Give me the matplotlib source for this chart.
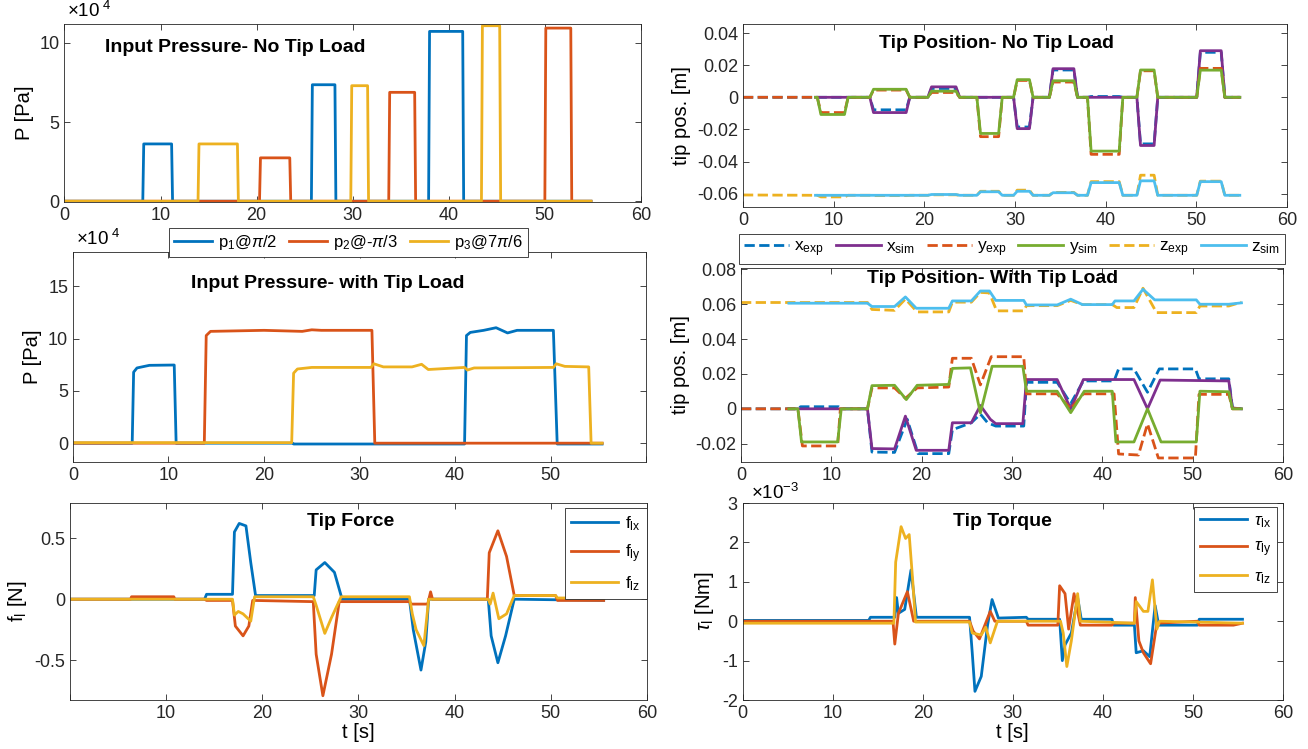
import matplotlib
matplotlib.use("Agg")
import matplotlib.pyplot as plt
import numpy as np

plt.rcParams['font.family'] = ['Liberation Sans', 'DejaVu Sans']
plt.rcParams['mathtext.fontset'] = 'custom'
plt.rcParams['mathtext.rm'] = 'Liberation Sans'
plt.rcParams['mathtext.it'] = 'Liberation Sans:italic'

C1, C2, C3 = '#0072BD', '#D95319', '#EDB120'
C4, C5, C6 = '#7E2F8E', '#77AC30', '#4DBEEE'

# ---- input pressure, no tip load (x1e4 Pa) ----
p1_nl_t = [0, 8.15, 8.25, 11.15, 11.25, 25.7, 25.8, 28.15, 28.25, 37.9, 38.0, 41.45, 41.55, 54.8]
p1_nl_v = [0, 0, 3.62, 3.62, 0, 0, 7.36, 7.36, 0, 0, 10.73, 10.73, 0, 0]
p2_nl_t = [0, 20.3, 20.4, 23.45, 23.55, 33.75, 33.85, 36.45, 36.55, 50.0, 50.1, 52.7, 52.8, 54.8]
p2_nl_v = [0, 0, 2.74, 2.74, 0, 0, 6.88, 6.88, 0, 0, 10.94, 10.94, 0, 0]
p3_nl_t = [0, 13.9, 14.0, 18.0, 18.1, 29.8, 29.9, 31.55, 31.65, 43.4, 43.5, 45.3, 45.4, 54.8]
p3_nl_v = [0, 0, 3.62, 3.62, 0, 0, 7.3, 7.3, 0, 0, 11.09, 11.09, 0, 0]

# ---- input pressure, with tip load (x1e4 Pa) ----
p1_wl_t = [0, 6.2, 6.35, 6.7, 8.0, 10.6, 10.8, 23, 23.1, 41.0, 41.2, 41.6, 43.0, 44.3, 45.5, 46.5, 50.3, 50.7, 55.4]
p1_wl_v = [0, 0, 6.8, 7.2, 7.45, 7.48, 0, 0, -0.08, -0.08, 10.3, 10.6, 10.8, 11.05, 10.55, 10.8, 10.8, -0.08, -0.08]
p2_wl_t = [0, 13.75, 13.95, 14.4, 20, 24, 25, 26, 30, 31.3, 31.6, 55.4]
p2_wl_v = [0, 0, 10.3, 10.7, 10.8, 10.7, 10.85, 10.8, 10.8, 10.8, 0, 0]
p3_wl_t = [0, 22.9, 23.1, 23.5, 25, 31.2, 31.5, 32.5, 35.5, 36.5, 37.2, 41.0, 41.3, 42, 50.3, 50.6, 51.5, 54.0, 54.25, 55.4]
p3_wl_v = [0.05, 0.05, 6.7, 7.1, 7.25, 7.25, 7.6, 7.3, 7.3, 7.55, 7.05, 7.25, 7.0, 7.2, 7.25, 7.6, 7.35, 7.3, 0, 0]

# ---- tip position, no tip load: pulse windows and levels [m] ----
pulse_on = [8.2, 14.0, 20.4, 25.8, 29.85, 33.8, 38.0, 43.45, 50.05]
pulse_off = [11.2, 18.0, 23.5, 28.2, 31.6, 36.5, 41.5, 45.35, 52.75]
xsim_nl = [0, -0.0095, 0.0065, 0, -0.0195, 0.0178, 0, -0.030, 0.029]
ysim_nl = [-0.0107, 0.005, 0.0038, -0.0225, 0.011, 0.0103, -0.0335, 0.017, 0.0169]
xexp_nl = [0, -0.0078, 0.0055, 0.0, -0.0185, 0.017, 0.0005, -0.029, 0.028]
yexp_nl = [-0.0095, 0.0045, 0.003, -0.0245, 0.0105, 0.0095, -0.0355, 0.0165, 0.018]
zsim_nl = [-0.061, -0.061, -0.0605, -0.0588, -0.0585, -0.0594, -0.0531, -0.052, -0.0525]
zexp_nl = [-0.062, -0.0612, -0.0607, -0.0585, -0.0578, -0.0592, -0.0525, -0.0485, -0.0522]

# ---- tip position, with tip load [m] ----
xexp_wl_t = [0, 6.3, 6.6, 10.8, 11.1, 14.0, 14.5, 17.0, 18.4, 19.6, 23.0, 23.4, 25.5, 26.5, 27.3, 28.2, 31.3, 31.6,
             35.0, 36.5, 37.9, 41.3, 41.8, 43.5, 45.0, 46.3, 50.3, 50.7, 54.0, 54.4, 55.4]
xexp_wl_v = [0, 0, 0.0012, 0.0012, 0, 0, -0.0248, -0.025, -0.006, -0.0257, -0.0257, -0.012, -0.008, -0.003, -0.008,
             -0.0099, -0.0099, 0.0152, 0.0152, 0.003, 0.016, 0.016, 0.0229, 0.0229, 0.0095, 0.0229, 0.0229, 0.0172,
             0.0172, 0.0005, 0]
xsim_wl_t = [5.3, 14.0, 14.5, 17.0, 18.2, 19.4, 23.0, 23.4, 25.5, 26.5, 27.6, 28.2, 31.2, 31.6, 35.0, 36.5, 37.9,
             43.5, 45.0, 46.4, 54.0, 54.4, 55.4]
xsim_wl_v = [0, 0, -0.0228, -0.023, -0.0042, -0.0238, -0.0238, -0.008, -0.008, 0.0019, -0.006, -0.0085, -0.0085,
             0.0168, 0.0168, 0.0, 0.0168, 0.0168, 0.0, 0.0165, 0.016, 0.0005, 0]
yexp_wl_t = [0, 6.3, 6.8, 10.7, 11.0, 14.0, 14.5, 17.0, 18.2, 19.5, 23.0, 23.4, 25.5, 26.5, 27.7, 31.3, 31.6, 35.0,
             36.5, 37.9, 41.3, 41.8, 44.0, 45.0, 46.2, 50.3, 50.7, 54.0, 54.4, 55.4]
yexp_wl_v = [0, 0, -0.0213, -0.0213, 0, 0, 0.012, 0.012, 0.006, 0.012, 0.0125, 0.029, 0.029, 0.0137, 0.0299, 0.0299,
             0.0086, 0.0086, 0.0, 0.0086, 0.0086, -0.0259, -0.0265, -0.0086, -0.0282, -0.0282, 0.0083, 0.0083, 0, 0]
ysim_wl_t = [5.3, 6.3, 6.7, 10.7, 11.1, 14.0, 14.5, 17.0, 18.3, 19.5, 23.0, 23.4, 25.4, 26.5, 27.8, 31.2, 31.6, 35.0,
             36.5, 38.0, 41.1, 41.5, 43.5, 45.0, 46.5, 50.4, 50.8, 54.0, 54.4, 55.4]
ysim_wl_v = [0, 0, -0.019, -0.019, 0, 0, 0.0133, 0.0135, 0.0053, 0.0135, 0.014, 0.0232, 0.0235, -0.0023, 0.0244,
             0.0244, 0.0101, 0.0101, -0.0022, 0.0101, 0.0101, -0.019, -0.019, 0, -0.019, -0.019, 0.0101, 0.0098, 0, 0]
zexp_wl_t = [0, 14.0, 14.5, 17.0, 18.2, 19.5, 23.0, 23.4, 25.5, 26.5, 27.5, 28.3, 31.3, 31.6, 35.0, 36.5, 37.8, 41.1,
             41.6, 43.5, 44.5, 46.0, 50.4, 50.8, 54.0, 55.4]
zexp_wl_v = [0.061, 0.061, 0.057, 0.0565, 0.063, 0.0556, 0.0556, 0.0612, 0.0612, 0.0668, 0.0665, 0.0562, 0.0562,
             0.0592, 0.0592, 0.0622, 0.0598, 0.0598, 0.0581, 0.0581, 0.0692, 0.0552, 0.0552, 0.059, 0.059, 0.0612]
zsim_wl_t = [5.3, 14.0, 14.5, 17.0, 18.2, 19.4, 23.0, 23.4, 25.5, 26.5, 27.5, 28.2, 31.3, 31.6, 35.0, 36.5, 37.8,
             41.1, 41.4, 43.5, 44.5, 45.8, 50.4, 50.8, 54.0, 55.4]
zsim_wl_v = [0.0606, 0.0606, 0.0587, 0.0587, 0.0642, 0.0577, 0.0577, 0.0619, 0.0619, 0.0676, 0.0676, 0.0622, 0.0622,
             0.0596, 0.0596, 0.0629, 0.0598, 0.0598, 0.0619, 0.0619, 0.0686, 0.0625, 0.0625, 0.06, 0.06, 0.0608]

# ---- tip force [N] ----
flx_t = [0, 14.0, 14.2, 16.9, 17.1, 17.6, 18.3, 18.8, 19.3, 25.4, 25.6, 26.5, 27.5, 28.3, 35.3, 35.7, 36.5, 37.0,
         37.3, 43.5, 43.8, 44.5, 45.3, 46.2, 55.5]
flx_v = [0, 0, 0.04, 0.04, 0.55, 0.62, 0.60, 0.3, 0.03, 0.03, 0.24, 0.30, 0.22, 0.0, 0.0, -0.25, -0.58, -0.35, 0.0,
         0.0, -0.3, -0.52, -0.3, 0.0, -0.01]
fly_t = [0, 6.3, 6.4, 10.8, 10.9, 14.0, 14.2, 16.9, 17.2, 18.0, 18.6, 19.0, 25.3, 25.6, 26.3, 27.2, 28.0, 35.3, 35.5,
         37.2, 37.5, 37.7, 43.4, 43.6, 44.5, 45.4, 46.2, 50.5, 50.7, 55.5]
fly_v = [0, 0, 0.02, 0.02, 0, 0, -0.01, -0.01, -0.22, -0.30, -0.22, -0.01, -0.02, -0.45, -0.79, -0.45, -0.02, -0.02,
         -0.04, -0.04, 0.06, 0.0, 0.0, 0.38, 0.56, 0.35, 0.03, 0.03, -0.01, -0.01]
flz_t = [0, 16.9, 17.1, 17.5, 18.0, 18.8, 19.2, 25.3, 25.6, 26.5, 27.2, 28.2, 35.3, 35.6, 36.0, 36.8, 37.3, 43.5,
         43.7, 44.0, 44.6, 45.4, 46.2, 50.5, 50.7, 55.5]
flz_v = [0, 0, -0.13, -0.10, -0.12, -0.18, 0.02, 0.02, -0.05, -0.28, -0.15, 0.02, 0.02, -0.12, -0.25, -0.38, 0.0,
         0.0, -0.04, 0.05, -0.16, -0.12, 0.03, 0.03, 0.01, 0.01]

# ---- tip torque [x1e-3 Nm] ----
tlx_t = [0, 14.0, 14.2, 16.9, 17.1, 17.3, 18.0, 18.7, 19.3, 25.2, 25.5, 25.8, 26.5, 27.2, 27.7, 28.4, 31.5, 31.7,
         35.2, 35.5, 35.8, 36.5, 37.2, 37.6, 41.0, 41.2, 43.5, 43.7, 44.5, 45.2, 45.8, 46.2, 50.5, 50.7, 55.5]
tlx_v = [0.02, 0.02, 0.1, 0.1, 0.6, 0.2, 0.3, 1.3, 0.1, 0.1, -0.8, -1.78, -1.4, -0.1, 0.55, 0.08, 0.1, 0.05, 0.05,
         -1.0, -0.6, -0.3, 0.6, 0.05, 0.05, -0.1, -0.1, -0.8, -0.75, -0.9, 0.4, -0.1, -0.1, 0.05, 0.05]
tly_t = [0, 16.7, 16.9, 17.3, 18.3, 19.0, 25.2, 25.6, 26.3, 27.5, 28.0, 31.5, 31.7, 35.0, 35.2, 35.8, 36.2, 36.8,
         37.5, 41.0, 41.2, 43.5, 43.6, 44.0, 44.5, 45.3, 46.0, 50.5, 50.7, 54.5, 55.5]
tly_v = [0, 0, -0.58, 0.2, 0.75, 0.0, 0.0, -0.25, -0.45, 0.25, 0.0, 0.0, -0.1, -0.1, 0.9, 0.7, -0.2, 0.7, -0.1,
         -0.1, -0.05, -0.05, 0.6, -0.5, -0.8, -1.08, -0.05, 0.0, -0.1, -0.1, -0.05]
tlz_t = [0, 16.8, 17.0, 17.6, 18.1, 18.5, 18.9, 19.2, 25.2, 25.5, 26.5, 27.0, 27.5, 28.3, 35.3, 35.6, 36.0, 36.5,
         37.2, 37.5, 43.5, 43.7, 44.5, 45.0, 45.5, 46.0, 46.3, 55.5]
tlz_v = [-0.05, -0.05, 1.5, 2.4, 2.1, 2.2, 1.0, -0.02, -0.02, -0.3, -0.35, -0.15, -0.55, 0.0, 0.0, -0.3, -1.15, -0.5,
         0.7, 0.0, -0.05, 0.5, 0.25, 0.25, 1.05, -0.2, 0.0, -0.05]


def steps(levels, base, t0, t1, ramp=0.4):
    # polyline through the pulse windows
    t, v = [t0], [base]
    for on, off, lv in zip(pulse_on, pulse_off, levels):
        t += [on, on + ramp, off, off + ramp]
        v += [base, lv, lv, base]
    t.append(t1)
    v.append(base)
    return t, v


LW = 2.0
TICK_FS = 13
LABEL_FS = 14.5
TITLE_FS = 14
LEG_FS = 12.5

fig = plt.figure(figsize=(13.08, 7.49), dpi=100)
ax1 = fig.add_axes([0.0493, 0.7303, 0.4407, 0.2377])
ax2 = fig.add_axes([0.568, 0.7236, 0.4159, 0.2443])
ax3 = fig.add_axes([0.0558, 0.3832, 0.4381, 0.2804])
ax4 = fig.add_axes([0.5665, 0.3832, 0.4144, 0.259])
ax5 = fig.add_axes([0.0535, 0.0654, 0.4411, 0.263])
ax6 = fig.add_axes([0.5677, 0.0654, 0.4132, 0.263])

for ax in (ax1, ax2, ax3, ax4, ax5, ax6):
    ax.tick_params(direction='in', top=True, right=True, labelsize=TICK_FS, length=4, width=0.6,
                   colors='#262626')
    for s in ax.spines.values():
        s.set_linewidth(0.6)
        s.set_color('#262626')


def box_legend(ax, handles, labels, fs=LEG_FS, **kw):
    leg = ax.legend(handles, labels, fontsize=fs, frameon=True, fancybox=False,
                    edgecolor='#262626', framealpha=1, **kw)
    leg.get_frame().set_linewidth(0.6)
    return leg


# top-left
ax1.plot(p1_nl_t, p1_nl_v, color=C1, lw=LW)
ax1.plot(p2_nl_t, p2_nl_v, color=C2, lw=LW)
ax1.plot(p3_nl_t, p3_nl_v, color=C3, lw=LW)
ax1.set_xlim(0, 60)
ax1.set_ylim(-0.05, 11.2)
ax1.set_yticks([0, 5, 10])
ax1.set_ylabel('P [Pa]', fontsize=LABEL_FS)
ax1.text(0.005, 1.015, r'$\times10^{\ 4}$', transform=ax1.transAxes, fontsize=13.5, va='bottom')
ax1.text(0.296, 0.87, 'Input Pressure- No Tip Load', transform=ax1.transAxes, ha='center', va='center',
         fontsize=TITLE_FS, fontweight='bold')

# top-right
t, v = steps(xexp_nl, 0, 8.0, 54.8)
ax2.plot([0] + t, [0] + v, color=C1, lw=LW, ls='--')
t, v = steps(xsim_nl, 0, 8.0, 54.8)
ax2.plot(t, v, color=C4, lw=LW)
t, v = steps(yexp_nl, 0, 8.0, 54.8)
ax2.plot([0] + t, [0] + v, color=C2, lw=LW, ls='--')
t, v = steps(ysim_nl, 0, 8.0, 54.8)
ax2.plot(t, v, color=C5, lw=LW)
t, v = steps(zexp_nl, -0.061, 8.0, 54.8)
ax2.plot([0] + t, [-0.0608] + v, color=C3, lw=LW, ls='--')
t, v = steps(zsim_nl, -0.061, 8.0, 54.8)
ax2.plot(t, v, color=C6, lw=LW)
ax2.set_xlim(0, 60)
ax2.set_ylim(-0.0683, 0.0456)
ax2.set_yticks([-0.06, -0.04, -0.02, 0, 0.02, 0.04])
ax2.set_yticklabels(['-0.06', '-0.04', '-0.02', '0', '0.02', '0.04'])
ax2.set_ylabel('tip pos. [m]', fontsize=LABEL_FS)
ax2.text(0.467, 0.896, 'Tip Position- No Tip Load', transform=ax2.transAxes, ha='center', va='center',
         fontsize=TITLE_FS, fontweight='bold')

# middle-left
l1, = ax3.plot(p1_wl_t, p1_wl_v, color=C1, lw=LW)
l2, = ax3.plot(p2_wl_t, p2_wl_v, color=C2, lw=LW)
l3, = ax3.plot(p3_wl_t, p3_wl_v, color=C3, lw=LW)
ax3.set_xlim(0, 60)
ax3.set_xticks([0, 10, 20, 30, 40, 50, 60])
ax3.set_xticklabels(['0', '10', '20', '30', '40', '50', ''])
ax3.set_ylim(-1.8, 18.3)
ax3.set_yticks([0, 5, 10, 15])
ax3.set_ylabel('P [Pa]', fontsize=LABEL_FS)
ax3.text(0.005, 1.015, r'$\times10^{\ 4}$', transform=ax3.transAxes, fontsize=13.5, va='bottom')
ax3.text(0.445, 0.852, 'Input Pressure- with Tip Load', transform=ax3.transAxes, ha='center', va='center',
         fontsize=TITLE_FS, fontweight='bold')
box_legend(ax3, [l1, l2, l3], [r'p$_1$@$\pi$/2', r'p$_2$@-$\pi$/3', r'p$_3$@7$\pi$/6'], fs=12, ncol=3,
           loc='upper left', bbox_to_anchor=(0.167, 1.115), borderaxespad=0, handlelength=2.3,
           columnspacing=0.7, handletextpad=0.35, borderpad=0.3)

# middle-right
h = []
h += ax4.plot(xexp_wl_t, xexp_wl_v, color=C1, lw=LW, ls='--')
h += ax4.plot(xsim_wl_t, xsim_wl_v, color=C4, lw=LW)
h += ax4.plot(yexp_wl_t, yexp_wl_v, color=C2, lw=LW, ls='--')
h += ax4.plot(ysim_wl_t, ysim_wl_v, color=C5, lw=LW)
h += ax4.plot(zexp_wl_t, zexp_wl_v, color=C3, lw=LW, ls='--')
h += ax4.plot(zsim_wl_t, zsim_wl_v, color=C6, lw=LW)
ax4.set_xlim(0, 60)
ax4.set_ylim(-0.0305, 0.0808)
ax4.set_yticks([-0.02, 0, 0.02, 0.04, 0.06, 0.08])
ax4.set_yticklabels(['-0.02', '0', '0.02', '0.04', '0.06', '0.08'])
ax4.set_ylabel('tip pos. [m]', fontsize=LABEL_FS)
ax4.text(0.465, 0.948, 'Tip Position- With Tip Load', transform=ax4.transAxes, ha='center', va='center',
         fontsize=TITLE_FS, fontweight='bold')
box_legend(ax4, h, [r'x$_{\rm exp}$', r'x$_{\rm sim}$', r'y$_{\rm exp}$', r'y$_{\rm sim}$', r'z$_{\rm exp}$',
                    r'z$_{\rm sim}$'], ncol=6, loc='lower left', bbox_to_anchor=(-0.004, 1.02, 1.008, 0.15),
           borderaxespad=0, mode='expand', handlelength=2.6, columnspacing=0.6, handletextpad=0.3,
           borderpad=0.3)

# bottom-left
h = []
h += ax5.plot(flx_t, flx_v, color=C1, lw=LW)
h += ax5.plot(fly_t, fly_v, color=C2, lw=LW)
h += ax5.plot(flz_t, flz_v, color=C3, lw=LW)
ax5.set_xlim(0, 60)
ax5.set_xticks([0, 10, 20, 30, 40, 50, 60])
ax5.set_xticklabels(['', '10', '20', '30', '40', '50', '60'])
ax5.set_ylim(-0.825, 0.787)
ax5.set_yticks([-0.5, 0, 0.5])
ax5.set_yticklabels(['-0.5', '0', '0.5'])
ax5.set_xlabel('t [s]', fontsize=LABEL_FS, labelpad=1)
ax5.set_ylabel(r'f$_{\rm l}$ [N]', fontsize=LABEL_FS)
ax5.text(0.487, 0.904, 'Tip Force', transform=ax5.transAxes, ha='center', va='center',
         fontsize=TITLE_FS, fontweight='bold')
box_legend(ax5, h, [r'f$_{\rm lx}$', r'f$_{\rm ly}$', r'f$_{\rm lz}$'], loc='upper right',
           bbox_to_anchor=(1.0, 0.975), borderaxespad=0, handlelength=2.7, handletextpad=0.4,
           borderpad=0.35, labelspacing=0.55)

# bottom-right
h = []
h += ax6.plot(tlx_t, tlx_v, color=C1, lw=LW)
h += ax6.plot(tly_t, tly_v, color=C2, lw=LW)
h += ax6.plot(tlz_t, tlz_v, color=C3, lw=LW)
ax6.set_xlim(0, 60)
ax6.set_ylim(-2, 3)
ax6.set_yticks([-2, -1, 0, 1, 2, 3])
ax6.set_yticklabels(['-2', '-1', '0', '1', '2', '3'])
ax6.set_xlabel('t [s]', fontsize=LABEL_FS, labelpad=1)
ax6.set_ylabel(r'$\tau_{\rm l}$ [Nm]', fontsize=LABEL_FS)
ax6.text(0.015, 1.0, r'$\times10^{-3}$', transform=ax6.transAxes, fontsize=13.5, va='bottom')
ax6.text(0.48, 0.904, 'Tip Torque', transform=ax6.transAxes, ha='center', va='center',
         fontsize=TITLE_FS, fontweight='bold')
box_legend(ax6, h, [r'$\tau_{\rm lx}$', r'$\tau_{\rm ly}$', r'$\tau_{\rm lz}$'], loc='upper right',
           bbox_to_anchor=(0.989, 0.98), borderaxespad=0, handlelength=2.7, handletextpad=0.4,
           borderpad=0.35, labelspacing=0.55)

fig.savefig('out.png', dpi=100)
